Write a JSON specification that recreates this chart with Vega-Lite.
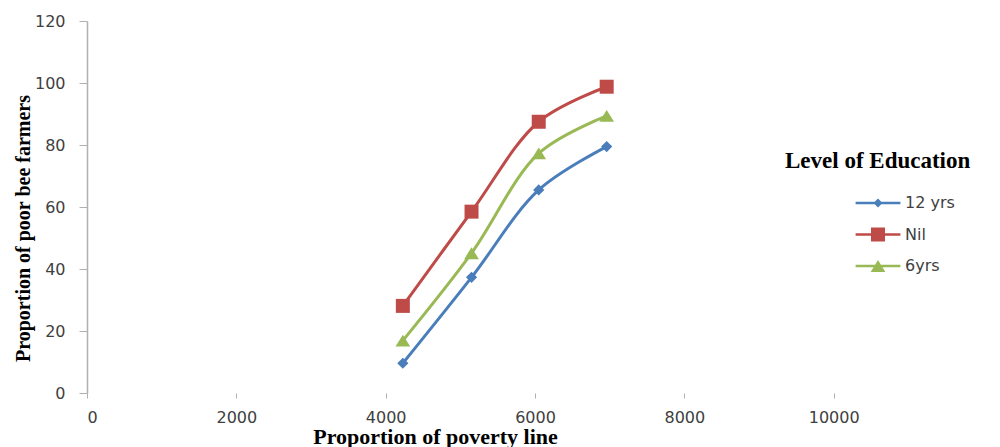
{
  "$schema": "https://vega.github.io/schema/vega-lite/v6.json",
  "autosize": "none",
  "width": 896,
  "height": 372,
  "padding": {"left": 87, "top": 21, "right": 17, "bottom": 54},
  "background": "white",
  "config": {
    "view": {"stroke": null},
    "axis": {
      "labelFont": "DejaVu Sans",
      "labelFontSize": 16,
      "labelColor": "#404040",
      "titleFont": "Liberation Serif",
      "titleFontWeight": "bold",
      "titleColor": "#000000",
      "grid": false,
      "tickColor": "#B0B0B0",
      "domainColor": "#B0B0B0"
    },
    "legend": {
      "titleFont": "Liberation Serif",
      "titleFontWeight": "bold",
      "titleColor": "#000000",
      "labelFont": "DejaVu Sans",
      "labelColor": "#404040",
      "symbolStrokeWidth": 0
    }
  },
  "data": {
    "values": [
      {"x": 4230, "y": 9.6, "edu": "12 yrs"},
      {"x": 5150, "y": 37.3, "edu": "12 yrs"},
      {"x": 6050, "y": 65.5, "edu": "12 yrs"},
      {"x": 6960, "y": 79.5, "edu": "12 yrs"},
      {"x": 4230, "y": 28.1, "edu": "Nil"},
      {"x": 5150, "y": 58.5, "edu": "Nil"},
      {"x": 6050, "y": 87.5, "edu": "Nil"},
      {"x": 6960, "y": 98.8, "edu": "Nil"},
      {"x": 4230, "y": 16.9, "edu": "6yrs"},
      {"x": 5150, "y": 45.1, "edu": "6yrs"},
      {"x": 6050, "y": 77.3, "edu": "6yrs"},
      {"x": 6960, "y": 89.4, "edu": "6yrs"}
    ]
  },
  "encoding": {
    "x": {
      "field": "x",
      "type": "quantitative",
      "scale": {"domain": [0, 12000], "nice": false},
      "axis": {
        "values": [0, 2000, 4000, 6000, 8000, 10000],
        "format": "d",
        "domain": false,
        "tickSize": 5,
        "labelPadding": 11,
        "title": "Proportion of poverty line",
        "titleFontSize": 22,
        "titleX": 348,
        "titleY": 50,
        "titleAnchor": null,
        "titleAlign": "center",
        "titleBaseline": "alphabetic"
      }
    },
    "y": {
      "field": "y",
      "type": "quantitative",
      "scale": {"domain": [0, 120], "nice": false},
      "axis": {
        "values": [0, 20, 40, 60, 80, 100, 120],
        "tickSize": 8,
        "labelPadding": 14,
        "domainWidth": 1.5,
        "title": "Proportion of poor bee farmers",
        "titleFontSize": 20,
        "titleAngle": 270,
        "titleX": -58,
        "titleY": 207,
        "titleAlign": "center",
        "titleBaseline": "alphabetic"
      }
    }
  },
  "layer": [
    {
      "mark": {"type": "line", "interpolate": "catmull-rom", "strokeWidth": 3},
      "encoding": {
        "stroke": {
          "field": "edu",
          "type": "nominal",
          "scale": {"domain": ["Nil", "12 yrs", "6yrs"], "range": ["#BE4B48", "#4A7EBB", "#98B954"]},
          "legend": null
        }
      }
    },
    {
      "transform": [{"filter": "datum.edu === '12 yrs'"}],
      "mark": {"type": "point", "filled": true, "opacity": 1, "size": 196, "color": "#4A7EBB", "shape": "M0,-0.8L0.8,0L0,0.8L-0.8,0Z"}
    },
    {
      "transform": [{"filter": "datum.edu === 'Nil'"}],
      "mark": {"type": "point", "filled": true, "opacity": 1, "size": 196, "color": "#BE4B48", "shape": "M-1,-1H1V1H-1Z"}
    },
    {
      "transform": [{"filter": "datum.edu === '6yrs'"}],
      "mark": {"type": "point", "filled": true, "opacity": 1, "size": 196, "color": "#98B954", "shape": "M0,-0.85L1.05,0.85H-1.05Z"}
    },
    {
      "transform": [{"filter": "datum.x < 0"}],
      "mark": {"type": "point", "filled": true, "opacity": 1, "size": 196},
      "encoding": {
        "shape": {
          "field": "edu",
          "type": "nominal",
          "scale": {
            "domain": ["12 yrs", "Nil", "6yrs"],
            "range": [
              "M-3.2,-0.19H3.2V0.19H-3.2ZM0,-0.65L0.65,0L0,0.65L-0.65,0Z",
              "M-3.2,-0.19H3.2V0.19H-3.2ZM-1,-1H1V1H-1Z",
              "M-3.2,-0.19H3.2V0.19H-3.2ZM0,-0.85L1.05,0.85H-1.05Z"
            ]
          },
          "legend": {
            "title": "Level of Education",
            "orient": "none",
            "legendX": 698,
            "legendY": 129,
            "padding": 0,
            "titleFontSize": 23,
            "titleLimit": 400,
            "titlePadding": 22,
            "labelFontSize": 16,
            "symbolSize": 196,
            "symbolOffset": 85,
            "labelOffset": 19,
            "rowPadding": 15.5
          }
        },
        "color": {
          "field": "edu",
          "type": "nominal",
          "scale": {"domain": ["12 yrs", "Nil", "6yrs"], "range": ["#4A7EBB", "#BE4B48", "#98B954"]},
          "legend": {
            "title": "Level of Education",
            "orient": "none",
            "legendX": 698,
            "legendY": 129,
            "padding": 0,
            "titleFontSize": 23,
            "titleLimit": 400,
            "titlePadding": 22,
            "labelFontSize": 16,
            "symbolSize": 196,
            "symbolOffset": 85,
            "labelOffset": 19,
            "rowPadding": 15.5
          }
        }
      }
    }
  ]
}
